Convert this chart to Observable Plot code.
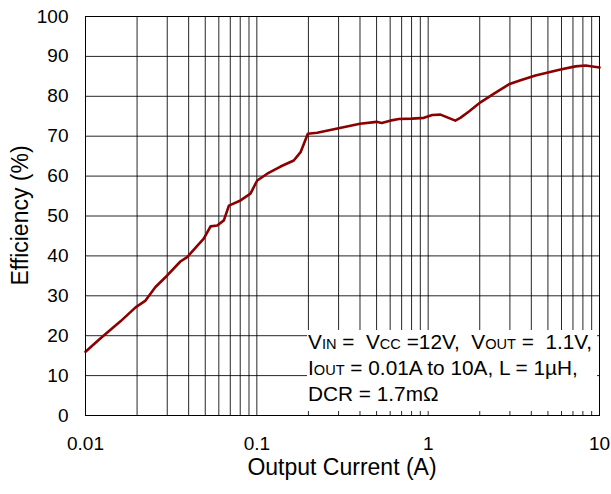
<!DOCTYPE html>
<html>
<head>
<meta charset="utf-8">
<script src="https://cdn.jsdelivr.net/npm/d3@7"></script>
<script src="https://cdn.jsdelivr.net/npm/@observablehq/plot@0.6"></script>
<style>
  body { margin: 0; background: #fff; }
  #chart svg { display: block; }
</style>
</head>
<body>
<div id="chart"></div>
<script>
// Output current (A) and efficiency (%)
const currentA = [0.01, 0.0122, 0.016, 0.0196, 0.0224, 0.0256, 0.030, 0.0358, 0.0392, 0.049,
  0.0537, 0.0587, 0.0642, 0.0687, 0.0803, 0.0918, 0.1005, 0.115, 0.1375, 0.1643,
  0.18, 0.1985, 0.225, 0.30, 0.40, 0.50, 0.535, 0.60, 0.674, 0.806,
  0.944, 1.056, 1.18, 1.44, 1.54, 1.73, 2.02, 2.41, 2.96, 3.46,
  4.23, 5.92, 7.24, 8.29, 10];
const efficiency = [16.0, 19.3, 23.6, 27.1, 28.8, 32.2, 35.1, 38.6, 39.7, 44.3,
  47.4, 47.6, 48.9, 52.6, 53.9, 55.6, 58.9, 60.6, 62.4, 63.9,
  66.0, 70.6, 70.85, 72.0, 73.1, 73.6, 73.3, 73.9, 74.3, 74.4,
  74.6, 75.3, 75.4, 73.9, 74.6, 76.2, 78.5, 80.6, 83.0, 84.0,
  85.2, 86.7, 87.5, 87.7, 87.2];

const xTicks = [0.01, 0.1, 1, 10];
const xTickLabels = ["0.01", "0.1", "1", "10"];
const xGrid = [0.02, 0.03, 0.04, 0.05, 0.06, 0.07, 0.08, 0.09, 0.1,
  0.2, 0.3, 0.4, 0.5, 0.6, 0.7, 0.8, 0.9, 1,
  2, 3, 4, 5, 6, 7, 8, 9];
const yTicks = [0, 10, 20, 30, 40, 50, 60, 70, 80, 90, 100];
const yGrid = [10, 20, 30, 40, 50, 60, 70, 80, 90];
const xTitle = "Output Current (A)";
const yTitle = "Efficiency (%)";
const noteLines = [
  [["V", 0], ["IN", 1], [" =  V", 0], ["CC", 1], [" =12V,  V", 0], ["OUT", 1], [" =  1.1V,", 0]],
  [["I", 0], ["OUT", 1], [" = 0.01A to 10A, L = 1\u00B5H,", 0]],
  [["DCR = 1.7m\u03A9", 0]]
];

const data = currentA.map((c, i) => ({c, e: efficiency[i]}));
const font = "'Liberation Sans', Arial, sans-serif";

const W = 611, H = 494;
const mL = 85, mR = 12, mT = 16, mB = 79;

const chart = Plot.plot({
  width: W,
  height: H,
  marginLeft: mL,
  marginRight: mR,
  marginTop: mT,
  marginBottom: mB,
  style: {fontFamily: font, fontSize: "19px", color: "#000", background: "#fff"},
  x: {type: "log", domain: [0.01, 10]},
  y: {domain: [0, 100]},
  marks: [
    Plot.ruleX(xGrid, {stroke: "#000", strokeWidth: 1, strokeOpacity: 0.85}),
    Plot.ruleY(yGrid, {stroke: "#000", strokeWidth: 1, strokeOpacity: 0.85}),
    Plot.line(data, {x: "c", y: "e", stroke: "#8b0000", strokeWidth: 2.6, strokeLinejoin: "round"}),
    Plot.frame({stroke: "#000", strokeWidth: 1}),
    Plot.axisX(xTicks, {tickSize: 0, tickPadding: 21, label: null,
      tickFormat: (d) => xTickLabels[xTicks.indexOf(d)], fontSize: 19}),
    Plot.axisY(yTicks, {tickSize: 0, tickPadding: 17, label: null, fontSize: 19})
  ]
});

document.getElementById("chart").appendChild(chart);

const svg = d3.select(chart);
// annotation box (white background hiding the grid)
const g = svg.append("g").attr("text-anchor", "start");
g.append("rect").attr("x", 307).attr("y", 330).attr("width", 290).attr("height", 81).attr("fill", "#fff");
const t = g.append("text").attr("font-family", font).attr("font-size", 20.8).attr("fill", "#000")
  .attr("text-anchor", "start").attr("xml:space", "preserve").style("white-space", "pre");
noteLines.forEach((line, i) => {
  line.forEach((seg, j) => {
    const ts = t.append("tspan").text(seg[0]).attr("font-size", seg[1] ? 14.6 : 20.8);
    if (j === 0) ts.attr("x", 308).attr("y", 349 + i * 26);
  });
});

// axis titles
svg.append("text").attr("x", (mL + W - mR) / 2).attr("y", 475)
  .attr("text-anchor", "middle").attr("font-family", font).attr("font-size", 23)
  .attr("fill", "#000").text(xTitle);
svg.append("text").attr("transform", `translate(28,${(mT + H - mB) / 2}) rotate(-90)`)
  .attr("text-anchor", "middle").attr("font-family", font).attr("font-size", 23)
  .attr("fill", "#000").text(yTitle);
</script>
</body>
</html>
